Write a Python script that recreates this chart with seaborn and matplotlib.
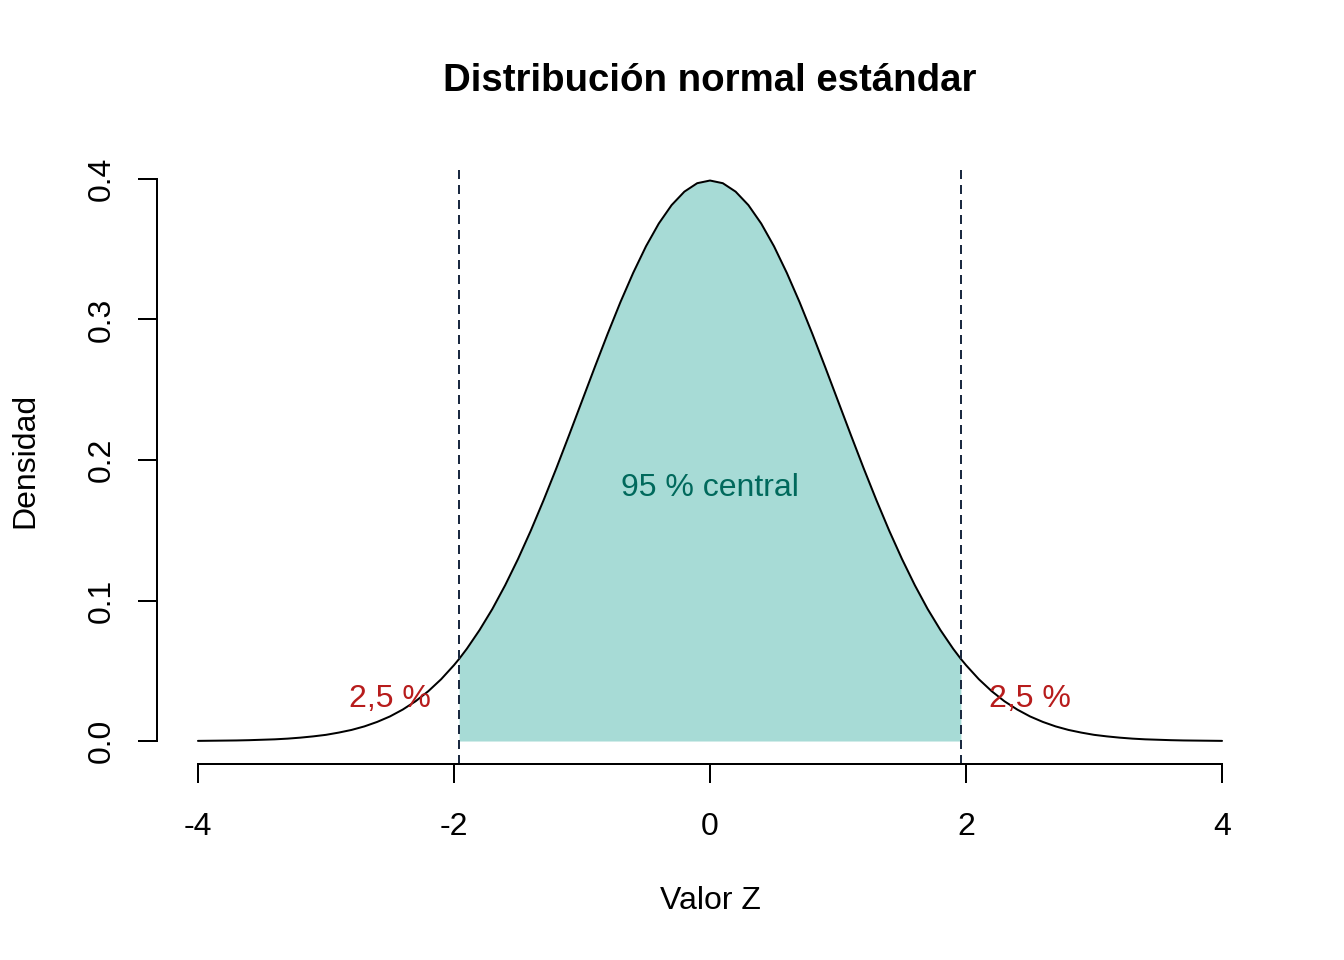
import numpy as np
import pandas as pd
import matplotlib
matplotlib.use("Agg")
import matplotlib.pyplot as plt
import seaborn as sns

# standard normal curve (z, density)
z = [-4.0, -3.9, -3.8, -3.7, -3.6, -3.5, -3.4, -3.3, -3.2, -3.1,
     -3.0, -2.9, -2.8, -2.7, -2.6, -2.5, -2.4, -2.3, -2.2, -2.1,
     -2.0, -1.96, -1.9, -1.8, -1.7, -1.6, -1.5, -1.4, -1.3, -1.2, -1.1,
     -1.0, -0.9, -0.8, -0.7, -0.6, -0.5, -0.4, -0.3, -0.2, -0.1,
     0.0, 0.1, 0.2, 0.3, 0.4, 0.5, 0.6, 0.7, 0.8, 0.9,
     1.0, 1.1, 1.2, 1.3, 1.4, 1.5, 1.6, 1.7, 1.8, 1.9, 1.96,
     2.0, 2.1, 2.2, 2.3, 2.4, 2.5, 2.6, 2.7, 2.8, 2.9,
     3.0, 3.1, 3.2, 3.3, 3.4, 3.5, 3.6, 3.7, 3.8, 3.9, 4.0]
densidad = [0.0001, 0.0002, 0.0003, 0.0004, 0.0006, 0.0009, 0.0012, 0.0017, 0.0024, 0.0033,
            0.0044, 0.0060, 0.0079, 0.0104, 0.0136, 0.0175, 0.0224, 0.0283, 0.0355, 0.0440,
            0.0540, 0.0584, 0.0656, 0.0790, 0.0940, 0.1109, 0.1295, 0.1497, 0.1714, 0.1942, 0.2179,
            0.2420, 0.2661, 0.2897, 0.3123, 0.3332, 0.3521, 0.3683, 0.3814, 0.3910, 0.3970,
            0.3989, 0.3970, 0.3910, 0.3814, 0.3683, 0.3521, 0.3332, 0.3123, 0.2897, 0.2661,
            0.2420, 0.2179, 0.1942, 0.1714, 0.1497, 0.1295, 0.1109, 0.0940, 0.0790, 0.0656, 0.0584,
            0.0540, 0.0440, 0.0355, 0.0283, 0.0224, 0.0175, 0.0136, 0.0104, 0.0079, 0.0060,
            0.0044, 0.0033, 0.0024, 0.0017, 0.0012, 0.0009, 0.0006, 0.0004, 0.0003, 0.0002, 0.0001]

z_crit = [-1.96, 1.96]
x_ticks = [-4, -2, 0, 2, 4]
y_ticks = [0.0, 0.1, 0.2, 0.3, 0.4]
y_ticklabels = ["0.0", "0.1", "0.2", "0.3", "0.4"]

df = pd.DataFrame({"z": z, "densidad": densidad})
central = df[(df["z"] >= z_crit[0]) & (df["z"] <= z_crit[1])]

sns.set_style("ticks")
plt.rcParams["font.family"] = ["Liberation Sans", "DejaVu Sans"]
plt.rcParams["font.size"] = 12
plt.rcParams["text.color"] = "black"
plt.rcParams["xtick.labelcolor"] = "black"
plt.rcParams["ytick.labelcolor"] = "black"

fig = plt.figure(figsize=(7, 5), dpi=192)
ax = fig.add_axes([157 / 1344, 1 - 763.5 / 960, (1263 - 157) / 1344, (763.5 - 156.5) / 960])

ax.fill_between(central["z"], 0, central["densidad"], color="#A7DBD6", linewidth=0)
sns.lineplot(data=df, x="z", y="densidad", color="black", linewidth=0.75, ax=ax)
for zc in z_crit:
    ax.axvline(zc, ymin=0, ymax=0.985, color="#1B2A41", linestyle=(0, (4.5, 3)), linewidth=0.75)

ax.text(0, 0.18, "95 % central", color="#00695C", ha="center", va="center", fontsize=12)
ax.text(-2.5, 0.03, "2,5 %", color="#B71C1C", ha="center", va="center", fontsize=12)
ax.text(2.5, 0.03, "2,5 %", color="#B71C1C", ha="center", va="center", fontsize=12)

ax.set_xlim(-4.32, 4.32)
ax.set_ylim(-0.016, 0.416)
ax.set_xticks(x_ticks)
ax.set_xticklabels([str(t) for t in x_ticks])
ax.set_yticks(y_ticks)
ax.set_yticklabels(y_ticklabels, rotation=90, va="center")
ax.tick_params(axis="both", length=7.2, width=0.75, color="black", labelsize=12, labelcolor="black")
ax.tick_params(axis="x", pad=11)
ax.tick_params(axis="y", pad=8)

sns.despine(ax=ax)
ax.spines["left"].set_bounds(0, 0.4)
ax.spines["bottom"].set_bounds(-4, 4)
for s in ["left", "bottom"]:
    ax.spines[s].set_linewidth(0.75)
    ax.spines[s].set_color("black")

ax.set_xlabel("")
ax.set_ylabel("")
fig.text(710 / 1344, 1 - 81 / 960, "Distribución normal estándar", ha="center", va="center",
         fontsize=14.4, fontweight="bold", color="black")
fig.text(710 / 1344, 1 - 901 / 960, "Valor Z", ha="center", va="center", fontsize=12, color="black")
fig.text(25 / 1344, 1 - 460 / 960, "Densidad", ha="center", va="center", rotation=90,
         fontsize=12, color="black")

fig.savefig("out.png", dpi=192)
